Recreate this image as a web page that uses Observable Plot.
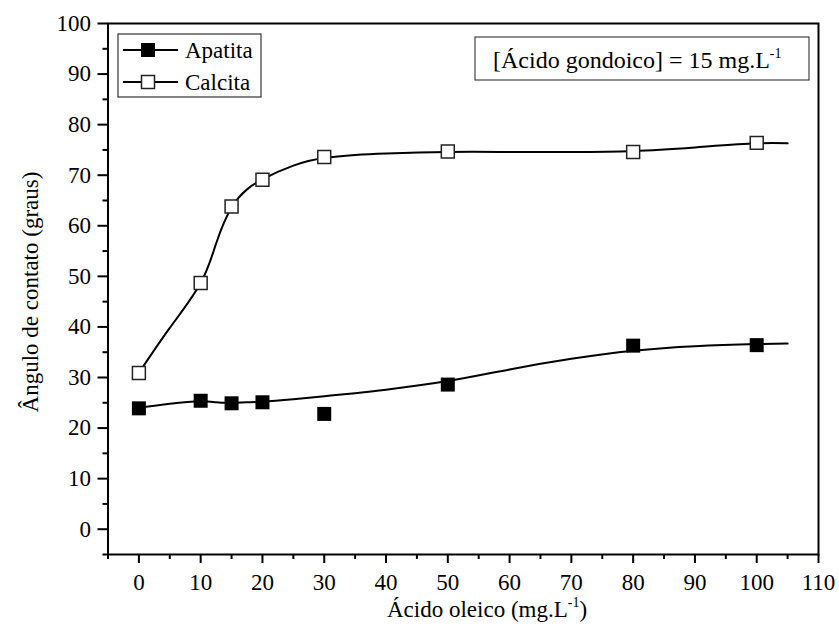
<!DOCTYPE html>
<html>
<head>
<meta charset="utf-8">
<script src="https://cdn.jsdelivr.net/npm/d3@7"></script>
<script src="https://cdn.jsdelivr.net/npm/@observablehq/plot@0.6"></script>
<style>
  html, body { margin: 0; padding: 0; background: #fff; }
  #chart svg { display: block; }
</style>
</head>
<body>
<div id="chart"></div>
<script>
// Measured contact angles (degrees) vs. oleic acid concentration (mg/L)
const concentracao = [0, 10, 15, 20, 30, 50, 80, 100];
const apatita = [23.9, 25.4, 24.9, 25.1, 22.8, 28.6, 36.3, 36.4];
const calcita = [30.9, 48.7, 63.8, 69.1, 73.6, 74.7, 74.6, 76.4];

// Smoothed fit curves for each mineral
const ajusteX = [0, 5, 10, 12.5, 15, 17.5, 20, 25, 30, 35, 40, 50, 60, 70, 80, 90, 100, 105];
const ajusteApatita = [24.0, 24.8, 25.3, 25.1, 25.0, 25.1, 25.2, 25.7, 26.3, 26.9, 27.6, 29.3, 31.6, 33.7, 35.3, 36.2, 36.6, 36.7];
const ajusteCalcita = [30.9, 39.8, 48.7, 56.5, 63.6, 67.2, 69.2, 71.9, 73.4, 74.0, 74.3, 74.6, 74.6, 74.6, 74.8, 75.5, 76.3, 76.3];

const xMajor = d3.range(0, 111, 10);
const xMinor = d3.range(-5, 110, 10);
const yMajor = d3.range(0, 101, 10);
const yMinor = d3.range(-5, 100, 10);

const pontosA = concentracao.map((x, i) => ({x, y: apatita[i]}));
const pontosC = concentracao.map((x, i) => ({x, y: calcita[i]}));
const curvaA = ajusteX.map((x, i) => ({x, y: ajusteApatita[i]}));
const curvaC = ajusteX.map((x, i) => ({x, y: ajusteCalcita[i]}));

const FONT = "'Liberation Serif', 'Times New Roman', 'DejaVu Serif', serif";

const chart = Plot.plot({
  width: 839,
  height: 644,
  marginLeft: 107.5,
  marginRight: 21,
  marginTop: 23,
  marginBottom: 90,
  style: {fontFamily: FONT, fontSize: "23px", color: "black", background: "white"},
  x: {domain: [-5, 110]},
  y: {domain: [-5, 100]},
  marks: [
    Plot.axisX({ticks: xMajor, tickSize: 9, tickPadding: 10, strokeWidth: 2, label: null, fontSize: 23}),
    Plot.axisX({ticks: xMinor, tickSize: 5, text: null, label: null, strokeWidth: 2}),
    Plot.axisY({ticks: yMajor, tickSize: 10, tickPadding: 7, strokeWidth: 2, label: null, fontSize: 23}),
    Plot.axisY({ticks: yMinor, tickSize: 5, text: null, label: null, strokeWidth: 2}),
    Plot.frame({stroke: "black", strokeWidth: 2}),
    Plot.line(curvaA, {x: "x", y: "y", curve: "natural", stroke: "black", strokeWidth: 2}),
    Plot.line(curvaC, {x: "x", y: "y", curve: "natural", stroke: "black", strokeWidth: 2}),
    Plot.dot(pontosA, {x: "x", y: "y", symbol: "square", r: 7.9, fill: "black", stroke: "none"}),
    Plot.dot(pontosC, {x: "x", y: "y", symbol: "square", r: 7.3, fill: "white", stroke: "#222", strokeWidth: 1.5})
  ]
});

const svg = d3.select(chart);
const g = svg.append("g")
  .attr("font-family", FONT)
  .attr("fill", "black")
  .attr("text-anchor", "start");

// Axis titles (with superscripts)
const tx = g.append("text").attr("x", 387).attr("y", 617).attr("font-size", 23);
tx.append("tspan").text("Ácido oleico (mg.L");
tx.append("tspan").attr("font-size", 14).attr("dy", -10).text("-1");
tx.append("tspan").attr("dy", 10).text(")");

g.append("text")
  .attr("transform", "translate(38,292) rotate(-90)")
  .attr("text-anchor", "middle")
  .attr("font-size", 23)
  .text("Ângulo de contato (graus)");

// Legend
const leg = g.append("g");
leg.append("rect").attr("x", 118).attr("y", 34).attr("width", 143).attr("height", 63)
  .attr("fill", "white").attr("stroke", "#333").attr("stroke-width", 1.2);
const rows = [
  {label: "Apatita", y: 50, fill: "black", stroke: "none", s: 14},
  {label: "Calcita", y: 82, fill: "white", stroke: "#222", s: 13}
];
for (const r of rows) {
  leg.append("line").attr("x1", 123).attr("x2", 178).attr("y1", r.y).attr("y2", r.y)
    .attr("stroke", "black").attr("stroke-width", 2);
  leg.append("rect").attr("x", 148 - r.s / 2).attr("y", r.y - r.s / 2)
    .attr("width", r.s).attr("height", r.s)
    .attr("fill", r.fill).attr("stroke", r.stroke).attr("stroke-width", 1.5);
  leg.append("text").attr("x", 185).attr("y", r.y + 8).attr("font-size", 23).text(r.label);
}

// Annotation box
g.append("rect").attr("x", 475).attr("y", 37).attr("width", 334).attr("height", 43)
  .attr("fill", "white").attr("stroke", "#444").attr("stroke-width", 1.2);
const ann = g.append("text").attr("x", 493).attr("y", 68).attr("font-size", 24);
ann.append("tspan").text("[Ácido gondoico] = 15 mg.L");
ann.append("tspan").attr("font-size", 14).attr("dy", -10).text("-1");

document.getElementById("chart").appendChild(chart);
</script>
</body>
</html>
